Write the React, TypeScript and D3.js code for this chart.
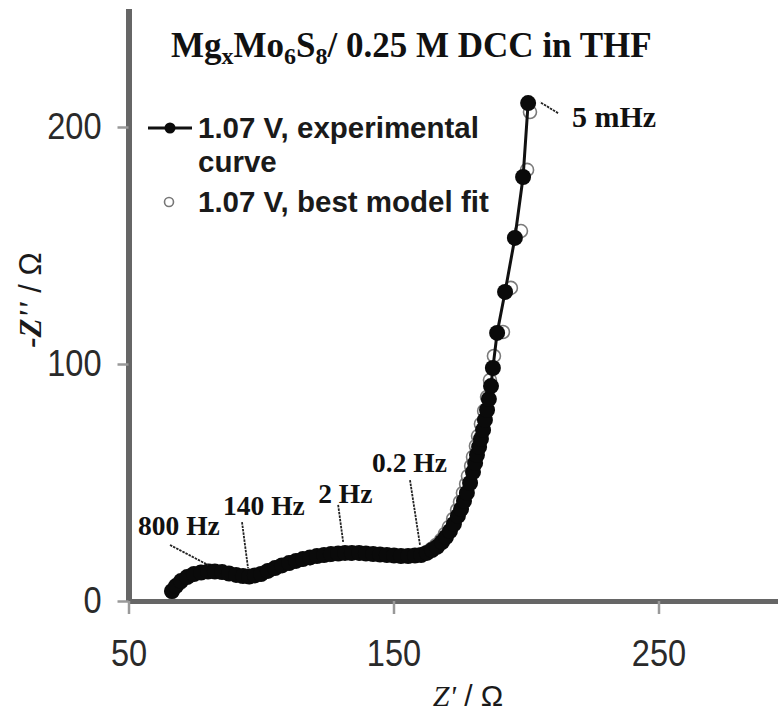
import React, { useEffect, useRef } from "react";
import { axisBottom, axisLeft, scaleLinear, select, line } from "d3";

// axis ticks
const xTicks = [50, 150, 250];
const yTicks = [0, 100, 200];

// 1.07 V experimental curve (Z' , -Z'')
const expZre = [
  66.4, 67.9, 69.8, 72.1, 74.7, 77.4, 80.0, 82.6, 85.3, 87.9, 90.6, 93.2, 95.5, 97.7,
  100.0, 102.6, 105.3, 107.9, 110.6, 113.2, 115.8, 118.5, 121.1, 123.8, 126.4, 129.1,
  131.7, 134.3, 137.0, 139.6, 142.3, 144.9, 147.5, 150.2, 152.8, 155.5, 158.1, 160.4,
  162.6, 164.5, 166.4, 168.3, 169.8, 171.3, 172.8, 174.3, 175.5, 176.6, 177.7, 178.9,
  180.0, 180.8, 181.5, 182.3, 183.0, 183.8, 184.5, 185.3, 186.0, 186.8, 187.5, 189.1,
  192.1, 195.8, 198.9, 200.8,
];
const expZim = [
  4.2, 6.3, 8.4, 10.1, 11.4, 12.0, 12.4, 12.4, 12.2, 11.6, 11.0, 10.5, 10.3, 10.8,
  11.4, 12.7, 13.9, 15.0, 16.0, 16.9, 17.7, 18.4, 19.0, 19.4, 19.8, 20.0,
  20.3, 20.3, 20.3, 20.0, 19.8, 19.6, 19.4, 19.2, 19.0, 19.0, 19.2, 19.4,
  20.3, 21.5, 22.8, 24.9, 27.0, 29.5, 32.5, 35.9, 38.8, 42.2, 45.6, 49.8,
  54.4, 58.2, 61.6, 65.0, 68.4, 72.2, 76.4, 80.6, 85.2, 90.7, 98.3, 113.1,
  130.4, 153.2, 178.9, 210.1,
];

// 1.07 V best model fit
const fitZre = [
  66.4, 69.4, 73.2, 77.0, 80.8, 84.5, 88.3, 92.1, 95.8, 99.6, 103.4, 107.2, 110.9,
  114.7, 118.5, 122.3, 126.0, 129.8, 133.6, 137.4, 141.1, 144.9, 148.7, 152.5, 156.2,
  159.2, 161.9, 164.2, 166.0, 167.9, 169.4, 170.9, 172.5, 174.0, 175.1, 176.2, 177.4,
  178.1, 179.3, 180.0, 181.1, 181.9, 183.0, 184.2, 185.3, 186.4, 187.9, 191.3, 194.3,
  198.1, 200.4, 201.5,
];
const fitZim = [
  3.8, 7.6, 10.5, 12.2, 12.7, 12.2, 11.4, 10.5, 10.1, 11.4, 13.1, 14.8, 16.0,
  17.3, 18.1, 19.0, 19.4, 19.8, 20.0, 20.0, 19.8, 19.6, 19.4, 19.0, 19.0,
  19.4, 20.3, 21.9, 23.6, 25.7, 28.3, 31.2, 34.6, 38.4, 41.8, 45.6, 49.4,
  52.7, 57.0, 60.8, 65.4, 69.6, 74.7, 80.2, 86.1, 93.2, 103.4, 113.5, 132.1,
  156.1, 181.9, 206.3,
];

// frequency labels and the point each one marks
const annLabels = ["800 Hz", "140 Hz", "2 Hz", "0.2 Hz", "5 mHz"];
const annZre = [80.0, 95.1, 131.0, 160.0, 205.3];
const annZim = [15.2, 13.9, 24.9, 23.6, 210.5];

const legendLabels = ["1.07 V, experimental", "curve", "1.07 V, best model fit"];

// leader start + text offsets (px, relative to the marked point)
const annLayout = [
  { lx: -38, ly: -20, tx: -70, ty: -30 },
  { lx: -6, ly: -46, tx: -25, ty: -53 },
  { lx: -5, ly: -37, tx: -25, ty: -39 },
  { lx: -10, ly: -65, tx: -48, ty: -73 },
  { lx: 18, ly: 11, tx: 32, ty: 25 },
];

const W = 778;
const H = 714;
const sans = "'Liberation Sans', Arial, sans-serif";
const serif = "'Liberation Serif', 'Times New Roman', serif";

const x = scaleLinear().domain([50, 300]).range([128.5, 791]);
const y = scaleLinear().domain([0, 250]).range([601, 8.5]);

function AxisBottom() {
  const ref = useRef(null);
  useEffect(() => {
    if (ref.current) {
      const g = select(ref.current);
      g.call(axisBottom(x).tickValues(xTicks).tickSize(13).tickSizeOuter(0).tickPadding(26));
      g.select(".domain").attr("stroke", "#666").attr("stroke-width", 5);
      g.selectAll(".tick line").attr("stroke", "#999").attr("stroke-width", 2.5);
      g.selectAll(".tick text")
        .attr("font-family", sans)
        .attr("font-size", 37)
        .attr("fill", "#2a2a2a")
        .attr("transform", "scale(0.88,1)");
    }
  }, []);
  return <g ref={ref} transform={`translate(0, ${y(0)})`} />;
}

function AxisLeft() {
  const ref = useRef(null);
  useEffect(() => {
    if (ref.current) {
      const g = select(ref.current);
      g.call(axisLeft(y).tickValues(yTicks).tickSize(11).tickSizeOuter(0));
      g.select(".domain").attr("stroke", "#666").attr("stroke-width", 6);
      g.selectAll(".tick line").attr("stroke", "#999").attr("stroke-width", 2.5);
      g.selectAll(".tick text")
        .attr("font-family", sans)
        .attr("font-size", 37)
        .attr("fill", "#2a2a2a")
        .attr("x", -27 / 0.88)
        .attr("transform", "scale(0.88,1)");
    }
  }, []);
  return <g ref={ref} transform={`translate(${x(50)}, 0)`} />;
}

export default function App() {
  const expLine = line<number>()
    .x((d, i) => x(expZre[i]))
    .y((d, i) => y(expZim[i]));

  return (
    <svg
      width={W}
      height={H}
      style={{ position: "absolute", left: 0, top: 0, background: "#fff" }}
    >
      <rect width={W} height={H} fill="#fff" />

      {/* model fit, open circles */}
      {fitZre.map((v, i) => (
        <circle
          key={`fit-${i}`}
          cx={x(v)}
          cy={y(fitZim[i])}
          r={6.5}
          fill="#fff"
          stroke="#7a7a7a"
          strokeWidth={1.6}
        />
      ))}

      {/* experimental */}
      <path d={expLine(expZre) || ""} fill="none" stroke="#111" strokeWidth={3} />
      {expZre.map((v, i) => (
        <circle key={`exp-${i}`} cx={x(v)} cy={y(expZim[i])} r={8} fill="#0a0a0a" />
      ))}

      <AxisLeft />
      <AxisBottom />

      {/* frequency annotations */}
      {annLabels.map((lab, i) => {
        const px = x(annZre[i]);
        const py = y(annZim[i]);
        const L = annLayout[i];
        return (
          <g key={lab}>
            <line
              x1={px + L.lx}
              y1={py + L.ly}
              x2={px}
              y2={py}
              stroke="#222"
              strokeWidth={1.8}
              strokeDasharray="2.5,1"
            />
            <text
              x={px + L.tx}
              y={py + L.ty}
              fontFamily={serif}
              fontWeight="bold"
              fontSize={i === 4 ? 30 : 27.5}
              fill="#111"
            >
              {lab}
            </text>
          </g>
        );
      })}

      {/* title */}
      <text x={171} y={57} fontFamily={serif} fontWeight="bold" fontSize={35} fill="#111">
        Mg
        <tspan dy={7} fontSize={24}>x</tspan>
        <tspan dy={-7}>Mo</tspan>
        <tspan dy={7} fontSize={24}>6</tspan>
        <tspan dy={-7}>S</tspan>
        <tspan dy={7} fontSize={24}>8</tspan>
        <tspan dy={-7}>/ 0.25 M DCC in THF</tspan>
      </text>

      {/* legend */}
      <g fontFamily={sans} fontWeight="bold" fontSize={29.5} fill="#1a1a1a">
        <line x1={148} y1={128} x2={192} y2={128} stroke="#111" strokeWidth={3} />
        <circle cx={170} cy={128} r={5.5} fill="#0a0a0a" />
        <text x={198} y={138}>{legendLabels[0]}</text>
        <text x={198} y={172}>{legendLabels[1]}</text>
        <circle cx={169} cy={202} r={4.5} fill="#fff" stroke="#777" strokeWidth={1.6} />
        <text x={198} y={212}>{legendLabels[2]}</text>
      </g>

      {/* axis titles */}
      <text
        transform="translate(30, 300) rotate(-90)"
        textAnchor="middle"
        dominantBaseline="central"
        fontSize={31}
        fill="#1a1a1a"
      >
        <tspan fontFamily={serif} fontWeight="bold" fontStyle="italic">-Z''</tspan>
        <tspan fontFamily={sans}> / Ω</tspan>
      </text>
      <text x={468} y={706} textAnchor="middle" fontSize={30} fill="#1a1a1a">
        <tspan fontFamily={serif} fontStyle="italic">Z'</tspan>
        <tspan fontFamily={sans}> / Ω</tspan>
      </text>
    </svg>
  );
}
